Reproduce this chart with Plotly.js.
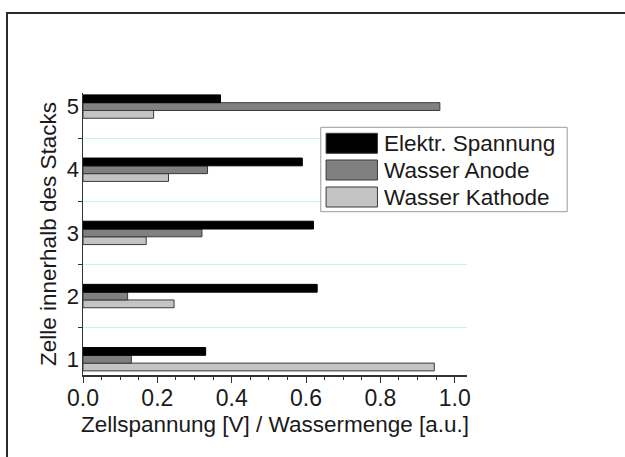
<!DOCTYPE html>
<html>
<head>
<meta charset="utf-8">
<script src="https://cdn.plot.ly/plotly-3.0.1.min.js"></script>
<style>
html,body{margin:0;padding:0;background:#fff;overflow:hidden;}
#wrap{position:relative;width:625px;height:457px;}
#chart{width:625px;height:457px;}
#frame{position:absolute;left:6px;top:12px;right:0;bottom:0;border-top:2px solid #2a2a2a;border-left:2px solid #2a2a2a;pointer-events:none;}
</style>
</head>
<body>
<div id="wrap"><div id="chart"></div><div id="frame"></div></div>
<script>
// ---- data ----
var cells = [1, 2, 3, 4, 5];
var cellLabels = ['1', '2', '3', '4', '5'];
var seriesNames = ['Elektr. Spannung', 'Wasser Anode', 'Wasser Kathode'];
var spannung = [0.33, 0.63, 0.62, 0.59, 0.37];
var wasserAnode = [0.13, 0.12, 0.32, 0.335, 0.96];
var wasserKathode = [0.945, 0.245, 0.17, 0.23, 0.19];
var xTickVals = [0, 0.2, 0.4, 0.6, 0.8, 1.0];
var sepVals = [1.5, 2.5, 3.5, 4.5];

// ---- geometry helpers (pixel -> paper) ----
var L = 83.3, R = 466.7, T = 93, B = 375;
function px(x){ return (x - L) / (R - L); }
function py(y){ return (B - y) / (B - T); }

var colors = ['#000000', '#808080', '#c4c4c4'];
var font = 'Liberation Sans, Arial, sans-serif';
var txt = '#1a1a1a';

var traces = [
  {type:'bar', orientation:'h', name: seriesNames[2], y: cells, x: wasserKathode,
   marker:{color: colors[2], line:{color:'#3a3a3a', width:1}}},
  {type:'bar', orientation:'h', name: seriesNames[1], y: cells, x: wasserAnode,
   marker:{color: colors[1], line:{color:'#3a3a3a', width:1}}},
  {type:'bar', orientation:'h', name: seriesNames[0], y: cells, x: spannung,
   marker:{color: colors[0], line:{color:'#000', width:1}}}
];

var yr = [0.75, 5.215];

var shapes = [];
var annotations = [];
// legend box
shapes.push({type:'rect', xref:'paper', yref:'paper', layer:'above',
  x0: px(320.7), x1: px(566.7), y0: py(211.7), y1: py(127.3),
  line:{color:'#9a9a9a', width:1}, fillcolor:'#ffffff'});
var rowC = [143.3, 170, 197];
for (var i = 0; i < 3; i++) {
  shapes.push({type:'rect', xref:'paper', yref:'paper', layer:'above',
    x0: px(326), x1: px(377.3), y0: py(rowC[i] + 10), y1: py(rowC[i] - 10),
    line:{color:'#3a3a3a', width:1}, fillcolor: colors[i]});
  annotations.push({xref:'paper', yref:'paper', x: px(382), y: py(rowC[i]),
    xanchor:'left', yanchor:'middle', showarrow:false, text: seriesNames[i],
    font:{family: font, size: 22.5, color: txt}});
}

var layout = {
  width: 625, height: 457,
  margin: {l: L, r: 625 - R, t: T, b: 457 - B, pad: 0},
  paper_bgcolor: '#fff', plot_bgcolor: '#fff',
  barmode: 'group', bargap: 0.63, bargroupgap: 0,
  showlegend: false,
  font: {family: font, color: txt},
  xaxis: {
    range: [0, 1.033], tickvals: xTickVals, tickformat: '.1f',
    ticks: 'outside', ticklen: 6, tickwidth: 1, tickcolor: '#333',
    ticklabelstandoff: -4,
    minor: {dtick: 0.05, tick0: 0, ticks: 'outside', ticklen: 3, tickcolor: '#333', showgrid: false},
    showline: true, linecolor: '#333', linewidth: 1.5,
    showgrid: false, zeroline: false,
    tickfont: {family: font, size: 23, color: txt},
    title: {text: 'Zellspannung [V] / Wassermenge [a.u.]', standoff: 6,
            font: {family: font, size: 22.5, color: txt}}
  },
  yaxis: {
    range: yr, tickmode: 'array', tickvals: cells, ticktext: cellLabels,
    ticks: '', ticklabelstandoff: -2,
    minor: {tickmode: 'array', tickvals: sepVals, ticks: 'outside', ticklen: 4,
            tickcolor: '#333', showgrid: true, gridcolor: '#c6f1f5', gridwidth: 1},
    showline: true, linecolor: '#333', linewidth: 1.5,
    showgrid: false, zeroline: false,
    tickfont: {family: font, size: 22, color: txt},
    title: {text: 'Zelle innerhalb des Stacks', standoff: 4,
            font: {family: font, size: 22.5, color: txt}}
  },
  yaxis2: {
    overlaying: 'y', anchor: 'x', side: 'left', range: yr,
    tickmode: 'array', tickvals: sepVals, ticks: 'inside', ticklen: 4,
    tickcolor: '#333', showticklabels: false, showline: false,
    showgrid: false, zeroline: false
  },
  shapes: shapes,
  annotations: annotations
};

Plotly.newPlot('chart', traces, layout, {staticPlot: true, displayModeBar: false});
</script>
</body>
</html>
